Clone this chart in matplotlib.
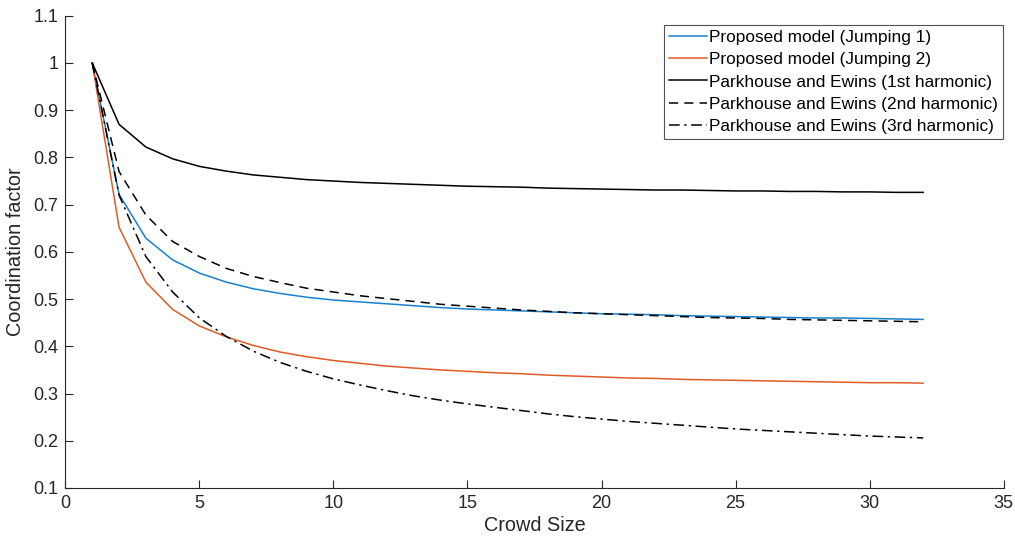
import matplotlib
matplotlib.use("Agg")
import matplotlib.pyplot as plt

crowd_size = list(range(1, 33))

jumping1 = [1.0, 0.722, 0.629, 0.583, 0.555, 0.536, 0.522, 0.512, 0.504, 0.498,
            0.494, 0.490, 0.486, 0.482, 0.479, 0.477, 0.475, 0.473, 0.471, 0.469,
            0.468, 0.467, 0.465, 0.464, 0.463, 0.462, 0.461, 0.460, 0.460, 0.459,
            0.458, 0.457]
jumping2 = [1.0, 0.652, 0.536, 0.478, 0.443, 0.420, 0.402, 0.388, 0.378, 0.370,
            0.364, 0.358, 0.354, 0.350, 0.347, 0.344, 0.342, 0.339, 0.337, 0.335,
            0.333, 0.332, 0.330, 0.329, 0.328, 0.327, 0.326, 0.325, 0.324, 0.323,
            0.323, 0.322]
pe_1st = [1.0, 0.870, 0.822, 0.797, 0.781, 0.771, 0.763, 0.758, 0.753, 0.750,
          0.747, 0.745, 0.743, 0.741, 0.739, 0.738, 0.737, 0.735, 0.734, 0.733,
          0.732, 0.731, 0.731, 0.730, 0.729, 0.729, 0.728, 0.728, 0.727, 0.727,
          0.726, 0.726]
pe_2nd = [1.0, 0.770, 0.678, 0.622, 0.590, 0.565, 0.548, 0.535, 0.523, 0.515,
          0.507, 0.501, 0.495, 0.489, 0.485, 0.481, 0.477, 0.474, 0.471, 0.469,
          0.467, 0.465, 0.463, 0.461, 0.460, 0.459, 0.457, 0.456, 0.455, 0.454,
          0.453, 0.452]
pe_3rd = [1.0, 0.720, 0.590, 0.515, 0.460, 0.421, 0.390, 0.366, 0.347, 0.331,
          0.318, 0.306, 0.295, 0.286, 0.278, 0.271, 0.264, 0.257, 0.251, 0.246,
          0.241, 0.237, 0.233, 0.229, 0.225, 0.222, 0.219, 0.216, 0.213, 0.210,
          0.208, 0.206]

labels = ["Proposed model (Jumping 1)", "Proposed model (Jumping 2)",
          "Parkhouse and Ewins (1st harmonic)", "Parkhouse and Ewins (2nd harmonic)",
          "Parkhouse and Ewins (3rd harmonic)"]
x_ticks = [0, 5, 10, 15, 20, 25, 30, 35]
y_ticks = [0.1, 0.2, 0.3, 0.4, 0.5, 0.6, 0.7, 0.8, 0.9, 1.0, 1.1]
y_tick_labels = ["0.1", "0.2", "0.3", "0.4", "0.5", "0.6", "0.7", "0.8", "0.9", "1", "1.1"]

plt.rcParams['font.family'] = ['Liberation Sans', 'DejaVu Sans']

fig = plt.figure(figsize=(10.15, 5.45), dpi=100)
ax = fig.add_axes([0.0645, 0.1046, 0.9242, 0.8665])

axc = '#262626'
ax.plot(crowd_size, jumping1, color='#1a80cc', lw=1.1, label=labels[0])
ax.plot(crowd_size, jumping2, color='#df5c26', lw=1.1, label=labels[1])
ax.plot(crowd_size, pe_1st, color='black', lw=1.1, ls='-', label=labels[2])
ax.plot(crowd_size, pe_2nd, color='black', lw=1.1, ls=(0, (6, 4)), label=labels[3])
ax.plot(crowd_size, pe_3rd, color='black', lw=1.1, ls=(0, (7, 3, 1.5, 3)), label=labels[4])

ax.set_xlim(0, 35)
ax.set_ylim(0.1, 1.1)
ax.set_xticks(x_ticks)
ax.set_yticks(y_ticks)
ax.set_yticklabels(y_tick_labels)
ax.tick_params(direction='in', length=6, width=0.8, colors=axc, labelsize=13, pad=5)
for s in ['top', 'right']:
    ax.spines[s].set_visible(False)
for s in ['left', 'bottom']:
    ax.spines[s].set_color(axc)
    ax.spines[s].set_linewidth(0.8)

ax.set_xlabel("Crowd Size", fontsize=14.3, color=axc, labelpad=3)
ax.set_ylabel("Coordination factor", fontsize=14.3, color=axc, labelpad=6)

leg = ax.legend(loc='upper right', bbox_to_anchor=(0.9995, 0.981), fontsize=12.4,
                frameon=True, fancybox=False, handlelength=2.2, handletextpad=0.1,
                borderpad=0.3, labelspacing=0.42, borderaxespad=0.0)
leg.get_frame().set_edgecolor('#262626')
leg.get_frame().set_linewidth(0.8)
for t in leg.get_texts():
    t.set_color('black')

fig.savefig("out.png", dpi=100)
